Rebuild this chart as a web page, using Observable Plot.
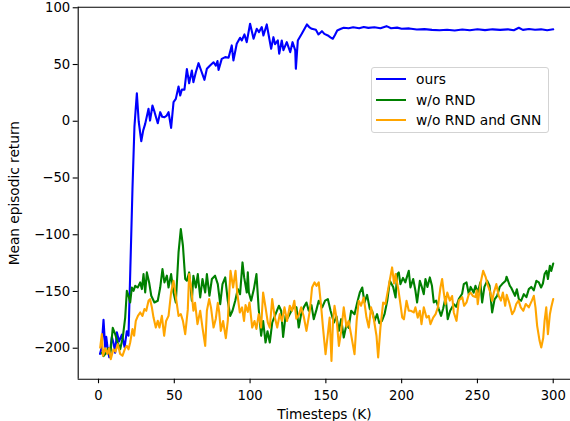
<!DOCTYPE html>
<html>
<head>
<meta charset="utf-8">
<script src="https://cdn.jsdelivr.net/npm/d3@7"></script>
<script src="https://cdn.jsdelivr.net/npm/@observablehq/plot@0.6"></script>
<style>
html, body { margin: 0; padding: 0; background: #fff; overflow: hidden; }
#wrap { position: relative; width: 570px; height: 421px; font-family: "DejaVu Sans", sans-serif; }
#legend { position: absolute; left: 371px; top: 66.5px; width: 176px; height: 64px; border: 1px solid #d3d3d3; border-radius: 3px; background: rgba(255,255,255,0.8); font-size: 13.8px; color: #000; }
.row { position: absolute; left: 4px; height: 20px; display: flex; align-items: center; white-space: nowrap; }
.sw { width: 30px; height: 2px; margin-right: 10px; }
g[aria-label="x-axis label"], g[aria-label="y-axis label"] { font-size: 13.7px; }
</style>
</head>
<body>
<div id="wrap"><div id="chart"></div><div id="legend"></div></div>
<script>
// ---- data ----
const seriesNames = ["ours", "w/o RND", "w/o RND and GNN"];
const seriesColors = ["blue", "green", "orange"];
const xTicks = [0, 50, 100, 150, 200, 250, 300];
const yTicks = [-200, -150, -100, -50, 0, 50, 100];
const xTitle = "Timesteps (K)";
const yTitle = "Mean episodic return";

const oursX = [1,2,3.3,4.4,5.1,6,7.1,8.8,10,11,12.1,13.6,15.4,17.2,18.7,19.8,21,22.4,23.7,24.5,25.3,26.5,28.2,29.5,30.8,33,34,35.6,37,39.1,40.7,42,43.5,45,46.2,47.9,49.5,51,52.8,53.9,55,56.7,58.3,59.8,61.6,62.6,64.2,66,67.7,69.9,71.5,73.6,75.9,77.4,78.5,79.2,81.3,83.6,85.8,87.9,89,91.2,93.4,94.5,96.3,97.8,100,102.3,104.4,105.9,107.7,108.8,111,113.9,115.4,116.5,118.3,119.2,120.9,122,124.2,126.5,128,129.8,130.2,131.5,134.1,137.5,139,140.7,143.4,145.1,147.4,149,151.3,153,154.6,156,157.5,160,161.8,165,168,172,175,178,182,186,190,193,197,200,205,210,215,220,225,230,235,240,245,250,255,260,265,270,274,277.3,280,284,288,292,296,300];
const oursY = [-205,-200,-175,-199,-190,-200,-208,-190,-196,-204,-186,-194,-188,-199,-185,-189,-130,-60,-5,10,24.7,0,-17.6,-8,-2.3,11,0.6,13.9,8,-1.7,8,4,3.5,5,8,-5.8,16.8,19.7,30.6,22.7,27.9,27.9,46,33.5,44.7,34.4,43.2,51.2,44.7,36.5,46.2,49.1,52,49.1,53,45.3,55,56.5,56,66.8,53.6,68.3,73.6,71.2,76.5,69.7,85.9,72.7,81.5,78.6,83,75.6,85.3,63.9,74.1,67.9,71.2,59.5,71.2,62.7,69.7,60.9,69.7,62.4,46.2,71.2,77.1,85.3,83,81.5,80.6,76.5,79.4,77,75.6,74,72.7,76,80,81.5,82.4,82,82.8,82,83,82.3,82.8,82,83.8,82,82.5,81.5,81.8,80.8,81.2,80.5,80.2,80.6,80,80.8,80.2,81,80.3,81,80.5,81,80.2,82.4,80.5,81.3,80.6,81,80.2,81];

const noRndX = [2.2,3.3,5.1,6.5,7.7,9.4,11,12.7,14.3,16,17.6,18.7,19.8,20.9,22,23.1,24.2,25.9,27.5,28.6,29.7,30.8,31.9,33.4,34.8,36.9,39.1,40.7,42.2,43.5,45.1,46.2,47.9,49.5,51,52.8,54.3,55.7,57.2,58.3,59.8,61.6,62.6,64.2,65.5,67.1,68.6,70.4,71.5,73.2,74.8,76.9,78.7,80.3,81.8,83.6,85.3,86.9,88.4,90.2,91.9,93.4,95,96.1,97.8,98.5,99.2,100.7,102.5,104.2,105.7,107.3,108.6,110.2,111.5,113,114.6,116.8,119,120.5,121.8,123.4,125,126.7,128.9,130.6,132.1,133.7,135.4,137.2,138.7,140.5,142,143.8,145.3,147.6,149.5,151.3,153.1,155.3,157,158.6,160.1,161.8,163.6,165,166.7,168.9,170.7,172.4,174,175.5,177.2,179,180.5,182.1,183.8,185.3,187,188.7,190.5,192.2,194.4,196,197,198.1,199.2,200.9,202.4,204.7,205.8,207.6,209.1,210.2,212,213.3,214.6,215.7,217,218.6,220,221.2,222.8,224.5,226,227.4,229,230.4,232,234.4,236,237.7,239.9,241,242.8,244.3,245.5,247.5,248.7,250.2,251.9,253.1,254.6,256.4,258,259.7,261.3,263,264.7,266.3,268.6,269.2,271.4,272.2,274.8,276,277.3,278.8,280.6,282.3,283.9,285.5,287.2,288.9,290.5,292,293.2,294.3,295.6,296.5,297.8,298.7,300];
const noRndY = [-204,-207,-204,-200,-207,-182,-187.6,-195,-200.9,-190.6,-173,-149.4,-153.8,-159.7,-146.5,-149.4,-145,-146.5,-142,-147.9,-134.7,-150.9,-133.2,-142,-153.8,-159.7,-158.2,-146.5,-130.3,-142,-136.1,-146.5,-134.7,-150.9,-159.7,-115.6,-95,-109.7,-139,-140.5,-133.2,-158.2,-136.1,-146.5,-134.7,-155.3,-139,-150.9,-134.7,-153.8,-139,-136.1,-143.5,-161.2,-143.5,-137.6,-158.2,-171.5,-167,-158.2,-147.9,-152.4,-124.4,-137.6,-150.9,-133,-150.9,-158.2,-147.9,-134.7,-165.5,-189,-176,-195,-185,-195,-177.4,-170,-162.6,-167,-190,-171.5,-173,-168.5,-162.6,-164,-181.8,-170,-164,-159.7,-167,-162,-174.4,-166,-158.2,-164,-158,-156.7,-167,-177.4,-172,-184.7,-174.4,-190.6,-179,-182,-167,-170,-159.7,-150.9,-146.5,-159.7,-153,-165.5,-167,-175.9,-170,-178,-176,-170,-158.2,-140.6,-146,-155.3,-134.7,-133.2,-143.5,-138,-142,-131.8,-146.5,-139,-149.4,-159.7,-140.6,-146,-152.4,-139,-146,-137.6,-145,-159.7,-158,-165.5,-171.5,-165,-155,-174.4,-167,-161.2,-163.5,-156.7,-152,-143.5,-142,-152.4,-146,-151,-145,-151,-142,-159.7,-146,-140.6,-145,-168.5,-157,-153.8,-146,-143.5,-140.6,-137,-145,-146.5,-153.8,-148,-156.7,-158.2,-152.4,-155,-147.9,-146,-149,-140.6,-142,-146.5,-143,-134.7,-131.8,-139,-127.3,-132,-125.3];

const noRndGnnX = [1.1,2.2,3,4.4,5.9,7,8.1,9.8,11.2,12.7,14.3,15.8,17.6,18.7,19.8,20.9,22.4,23.5,24.6,26,27.5,29,30.3,31.5,33,34,35.2,36.3,37.8,39.1,40.2,41.8,43.3,44.6,46.2,47.9,49.5,50.5,51.7,52.8,54.3,55.7,57.2,58.9,59.8,61.1,62.6,63.7,65.3,67.1,68.6,70.4,71.5,73,74.2,75.9,77.4,78.7,79.6,80.7,82.2,84,85.3,85.9,87.1,88.8,90.4,91.5,93.2,94.7,96,97,98.5,99.6,101.4,102.9,104.2,105.7,107.3,108.6,110.2,111.7,113,114.6,116.2,117.9,119.6,121.1,122.7,124.4,126.2,127.7,129.2,130.5,132,133.7,135.4,137.2,139.4,140.9,142.5,143.8,145.3,146.8,148.2,149.8,151.3,152.5,153.7,154.7,155.7,157,158.6,160.1,161.8,163.6,165,166.6,168.9,170.3,171.7,173.2,175,176.8,178.3,179.8,181.6,183.4,184.5,186,187.8,189.3,191.5,193.7,195,196,197.9,199.2,200.4,201.5,203.2,204.7,206.2,208,209.1,210.6,212,213.1,214.6,216.4,217.9,219,220.8,222.4,223.9,225.6,226.7,227.8,228.9,230.1,231.8,233.3,234.4,236.2,237.7,240,241.2,242.8,244.3,245.5,247.1,248.7,249.5,250.2,252,253.8,255.5,256.6,258.5,259.7,260.8,262.5,264,265.5,266.8,268.3,269.3,271,272.9,274.3,275.6,277.1,278.6,280.3,281.9,283.9,285.9,287.2,288.3,289.4,291,292.1,293.4,294.3,295.4,296.5,297.8,298.7,300];
const noRndGnnY = [-199.4,-187.6,-206.5,-200,-205,-200,-209.6,-200.9,-203,-196.4,-205,-206.7,-200,-197.9,-201,-195,-183.2,-189,-175.9,-171.5,-168.5,-171.5,-165.5,-167,-158.2,-156.7,-164,-173,-181.8,-175.9,-181.8,-171.5,-189,-176,-171.5,-150.9,-140.6,-149.4,-161.2,-171.5,-170,-175.9,-187.6,-166,-134.7,-146.5,-167,-160,-178.8,-167,-181.8,-197.9,-167,-156.7,-164,-181.8,-174,-160,-168,-184.7,-176,-191.1,-176,-160,-131.8,-146.5,-131.8,-150.9,-168.5,-164,-175.9,-162,-168,-159.7,-181.8,-176,-183,-170,-181.8,-150.9,-164,-177.4,-181.8,-156.7,-172,-181.8,-170,-176,-164,-176,-162.6,-167,-158.2,-174,-171,-164,-172,-184.7,-167,-146.5,-142,-145,-142,-162,-183.2,-205.2,-187.6,-173,-211.2,-176,-162.6,-173,-197.9,-185,-164,-181,-176,-187.6,-205.2,-176,-158.2,-162.6,-155.3,-173,-181.8,-164,-174,-189,-208.2,-181.8,-159.7,-161.2,-145,-128.8,-143,-134.7,-149,-161.2,-173,-174.5,-158.2,-167,-167,-168.5,-164,-173,-167,-178.8,-164,-173,-171.5,-178.8,-173,-170,-164,-146.5,-139,-151,-161.2,-151,-158,-154,-168.5,-175.9,-158,-155,-162.6,-159.7,-152.4,-151,-154,-155,-149,-161.2,-143,-131.8,-137.6,-143.5,-150.9,-158.2,-151,-143.5,-153.8,-158,-151,-162.6,-153,-160,-170,-167,-161,-158,-164,-167,-161,-164,-158,-153.8,-164,-180.3,-193.5,-199.4,-191,-175.9,-164,-187.6,-170,-164,-156.7];

// ---- scale extents ----
const xDomain = [-13.4, 311.4];
const yDomain = [-227.3, 100.5];

const toRows = (xs, ys, name) => xs.map((x, i) => ({x, y: ys[i], series: name}));
const rows = [
  toRows(oursX, oursY, seriesNames[0]),
  toRows(noRndX, noRndY, seriesNames[1]),
  toRows(noRndGnnX, noRndGnnY, seriesNames[2])
];
const fmt = d => d < 0 ? "\u2212" + Math.abs(d) : String(d);

const chart = Plot.plot({
  width: 570,
  height: 421,
  marginLeft: 77.7,
  marginRight: 0,
  marginTop: 6.7,
  marginBottom: 42.3,
  style: {fontFamily: "DejaVu Sans", fontSize: "13.2px", color: "black", background: "white", overflow: "visible"},
  x: {domain: xDomain},
  y: {domain: yDomain},
  marks: [
    Plot.axisX({ticks: xTicks, tickSize: 4.5, tickPadding: 7.3, tickFormat: fmt, label: xTitle, labelAnchor: "center", labelArrow: "none", labelOffset: 40, strokeWidth: 1.1}),
    Plot.axisY({ticks: yTicks, tickSize: 5, tickPadding: 3, tickFormat: fmt, label: yTitle, labelAnchor: "center", labelArrow: "none", labelOffset: 68.5, strokeWidth: 1.1}),
    Plot.line(rows[0], {x: "x", y: "y", stroke: seriesColors[0], strokeWidth: 2.1}),
    Plot.line(rows[1], {x: "x", y: "y", stroke: seriesColors[1], strokeWidth: 2.1}),
    Plot.line(rows[2], {x: "x", y: "y", stroke: seriesColors[2], strokeWidth: 2.1}),
    Plot.ruleX([xDomain[0]], {stroke: "black", strokeWidth: 1.1}),
    Plot.ruleY([yDomain[0], yDomain[1]], {stroke: "black", strokeWidth: 1.1})
  ]
});
document.getElementById("chart").appendChild(chart);

// legend
const legend = document.getElementById("legend");
const rowTops = [1.5, 22.2, 42.6];
seriesNames.forEach((name, i) => {
  const r = document.createElement("div");
  r.className = "row";
  r.style.top = rowTops[i] + "px";
  const sw = document.createElement("div");
  sw.className = "sw";
  sw.style.background = seriesColors[i];
  const t = document.createElement("span");
  t.textContent = name;
  r.appendChild(sw);
  r.appendChild(t);
  legend.appendChild(r);
});
</script>
</body>
</html>
